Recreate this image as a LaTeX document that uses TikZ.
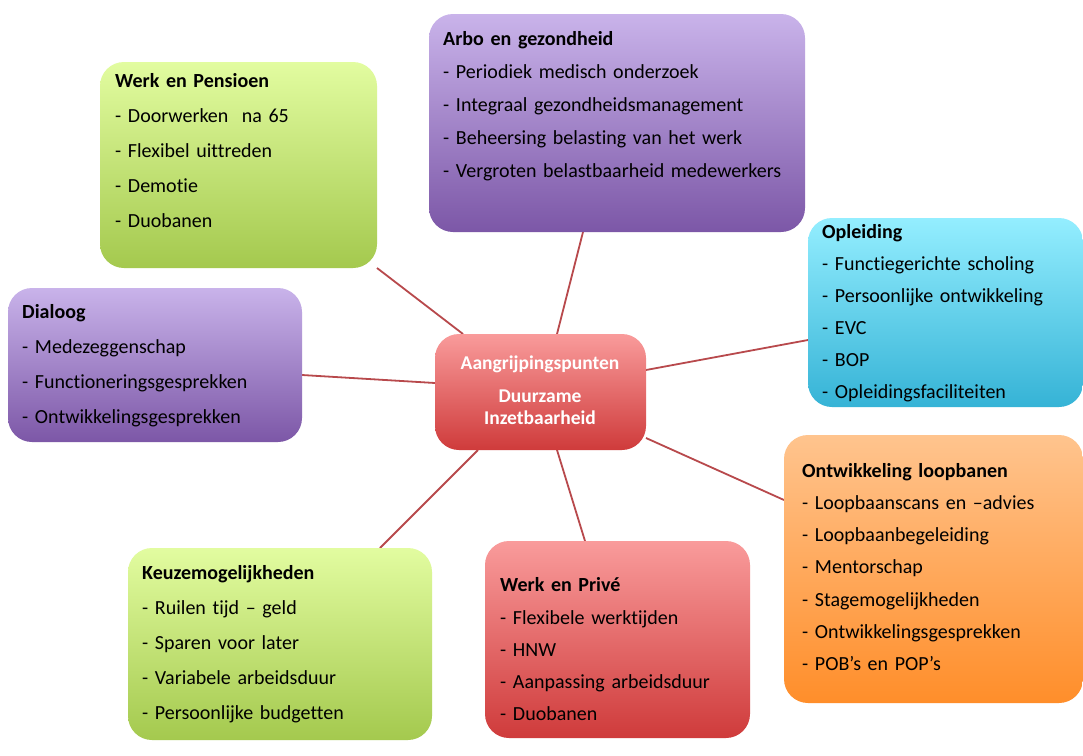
\documentclass[tikz,border=0pt]{standalone}
\usepackage{fontspec}
\setmainfont{Carlito}[Ligatures=NoCommon]
\usetikzlibrary{backgrounds}
\definecolor{gTop}{HTML}{E2FCA0}
\definecolor{gBot}{HTML}{A4C94E}
\definecolor{pTop}{HTML}{C9B3EA}
\definecolor{pBot}{HTML}{7C57A7}
\definecolor{cTop}{HTML}{94EEFF}
\definecolor{cBot}{HTML}{35B3D6}
\definecolor{rTop}{HTML}{F99B9B}
\definecolor{rBot}{HTML}{CF3B3B}
\definecolor{oTop}{HTML}{FFC48E}
\definecolor{oBot}{HTML}{FF8E2A}
\definecolor{connc}{HTML}{B8494C}
\tikzset{
  box/.style={rectangle, rounded corners=24pt, inner sep=0pt, outer sep=0pt, draw=none},
  greenbox/.style={box, top color=gTop, bottom color=gBot},
  purplebox/.style={box, top color=pTop, bottom color=pBot},
  cyanbox/.style={box, top color=cTop, bottom color=cBot},
  redbox/.style={box, top color=rTop, bottom color=rBot},
  orangebox/.style={box, top color=oTop, bottom color=oBot},
  txt/.style={anchor=base west, align=left, text width=420pt, inner sep=0pt, text=black,
    font=\fontsize{20}{#1}\selectfont},
  conn/.style={draw=connc, line width=1.8pt},
}
\begin{document}
\begin{tikzpicture}[x=1pt,y=-1pt]
\useasboundingbox (0,0) rectangle (1083,755);
% boxes
\node[greenbox, minimum width=277pt, minimum height=206pt] (wp) at (238.5,165) {};
\node[purplebox, minimum width=376pt, minimum height=218pt] (arbo) at (617,123) {};
\node[cyanbox, minimum width=275pt, minimum height=189pt] (opl) at (945.5,312.5) {};
\node[purplebox, minimum width=294pt, minimum height=154pt] (dia) at (155,365) {};
\node[redbox, minimum width=211pt, minimum height=116pt] (ctr) at (540.5,392) {};
\node[orangebox, minimum width=299pt, minimum height=268pt] (ont) at (933.5,569) {};
\node[greenbox, minimum width=304pt, minimum height=192pt] (keu) at (280,644) {};
\node[redbox, minimum width=265pt, minimum height=197pt] (wpr) at (617.5,639.5) {};
% texts
\node[txt={35}] (wpt) at (115,87.7) {\textbf{Werk en Pensioen}\\- Doorwerken~~na 65\\- Flexibel uittreden\\- Demotie\\- Duobanen};
\node[txt={33}] (arbot) at (443,45) {\textbf{Arbo en gezondheid}\\- Periodiek medisch onderzoek\\- Integraal gezondheidsmanagement\\- Beheersing belasting van het werk\\- Vergroten belastbaarheid medewerkers};
\node[txt={32}] (oplt) at (822,238.3) {\textbf{Opleiding}\\- Functiegerichte scholing\\- Persoonlijke ontwikkeling\\- EVC\\- BOP\\- Opleidingsfaciliteiten};
\node[txt={35}] (diat) at (22,318.3) {\textbf{Dialoog}\\- Medezeggenschap\\- Functioneringsgesprekken\\- Ontwikkelingsgesprekken};
\node[txt={32.2}] (ontt) at (802,477.3) {\textbf{Ontwikkeling loopbanen}\\- Loopbaanscans en –advies\\- Loopbaanbegeleiding\\- Mentorschap\\- Stagemogelijkheden\\- Ontwikkelingsgesprekken\\- POB’s en POP’s};
\node[txt={35}] (keut) at (142,579.3) {\textbf{Keuzemogelijkheden}\\- Ruilen tijd – geld\\- Sparen voor later\\- Variabele arbeidsduur\\- Persoonlijke budgetten};
\node[txt={32.3}] (wprt) at (500,591.7) {\textbf{Werk en Privé}\\- Flexibele werktijden\\- HNW\\- Aanpassing arbeidsduur\\- Duobanen};
\node[anchor=base, align=center, text width=210pt, inner sep=0pt, text=white,
  font=\fontsize{19.5}{22}\selectfont\bfseries] (ctrt) at (540,369)
  {Aangrijpingspunten\\[11pt]Duurzame\\Inzetbaarheid};
% connectors
\begin{pgfonlayer}{background}
\fill[white] (0,0) rectangle (1083,755);
\draw[conn] (wp.south east) -- ([xshift=28pt]ctr.north west);
\draw[conn] ([xshift=-34pt]arbo.south) -- ([xshift=16.5pt]ctr.north);
\draw[conn] ([yshift=-27.5pt]opl.west) -- ([yshift=22pt]ctr.east);
\draw[conn] ([yshift=-10pt]dia.east) -- ([yshift=9pt]ctr.west);
\draw[conn] ([yshift=69pt]ont.west) -- ([yshift=-46pt]ctr.east);
\draw[conn] ([xshift=-52pt]keu.north east) -- ([xshift=43pt]ctr.south west);
\draw[conn] ([xshift=-32.5pt]wpr.north) -- ([xshift=16.5pt]ctr.south);
\end{pgfonlayer}
\end{tikzpicture}
\end{document}
